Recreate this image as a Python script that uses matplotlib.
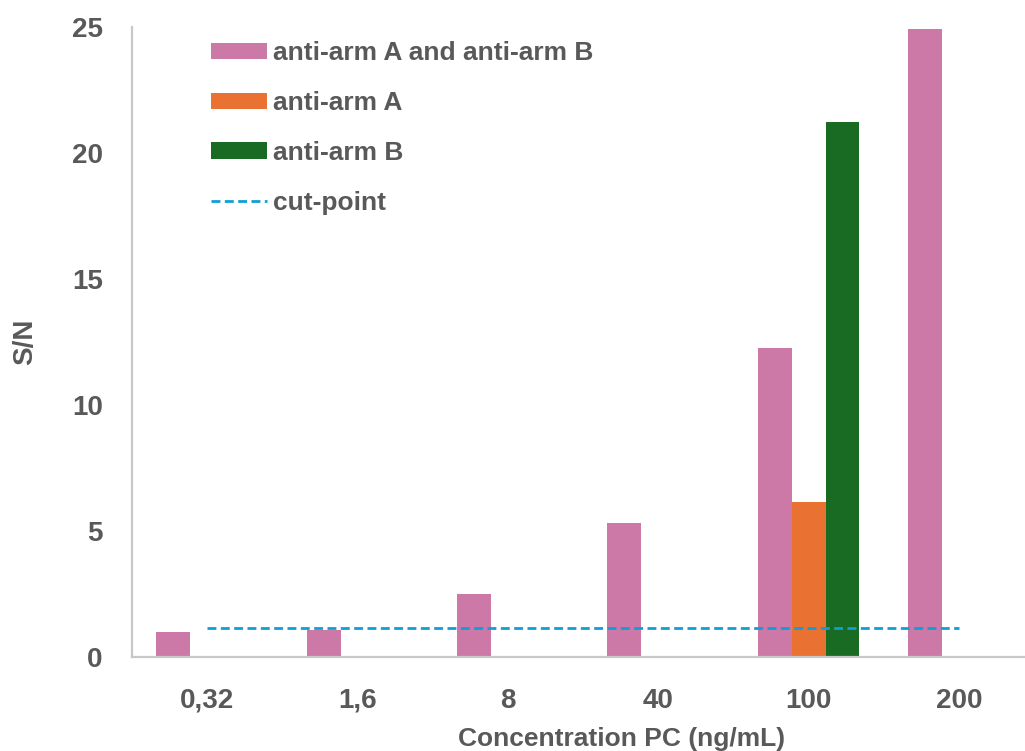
import matplotlib.pyplot as plt
import numpy as np

# concentrations of PC (ng/mL) and S/N readings
concentrations = ['0,32', '1,6', '8', '40', '100', '200']
sn_both = [0.99, 1.07, 2.49, 5.33, 12.26, 24.92]
sn_arm_a = [np.nan, np.nan, np.nan, np.nan, 6.16, np.nan]
sn_arm_b = [np.nan, np.nan, np.nan, np.nan, 21.22, np.nan]
cut_point = [1.16, 1.16, 1.16, 1.16, 1.16, 1.16]

text_grey = '#595959'
axis_grey = '#c8c8c8'
font = 'Liberation Sans'

fig = plt.figure(figsize=(10.25, 7.51), dpi=100)
ax = fig.add_axes([0.1288, 0.1252, 0.8800, 0.8388])

x = np.arange(len(concentrations))
w = 0.226
b1 = ax.bar(x - w, sn_both, w, color='#CC79A7', label='anti-arm A and anti-arm B')
b2 = ax.bar(x, sn_arm_a, w, color='#E97132', label='anti-arm A')
b3 = ax.bar(x + w, sn_arm_b, w, color='#196B24', label='anti-arm B')
ln, = ax.plot(x, cut_point, color='#0F9ED5', lw=2.0, dashes=(3.2, 1.6), label='cut-point')

ax.set_xlim(-0.5, 5.5)
ax.set_ylim(0, 25)
ax.set_yticks([0, 5, 10, 15, 20, 25])
ax.set_xticks(x)
ax.set_xticklabels(concentrations)
for lbl in ax.get_xticklabels() + ax.get_yticklabels():
    lbl.set_fontsize(20)
    lbl.set_fontweight('bold')
    lbl.set_color(text_grey)
    lbl.set_family(font)
ax.tick_params(axis='x', length=0, pad=22)
ax.tick_params(axis='y', length=0, pad=21)

for side in ['top', 'right']:
    ax.spines[side].set_visible(False)
for side in ['left', 'bottom']:
    ax.spines[side].set_color(axis_grey)
    ax.spines[side].set_linewidth(1.6)

ax.set_xlabel('Concentration PC (ng/mL)', family=font, fontsize=19,
              fontweight='bold', color=text_grey, labelpad=10, x=0.543)
ax.set_ylabel('S/N', family=font, fontsize=20, fontweight='bold',
              color=text_grey, labelpad=24)

leg = ax.legend([b1, b2, b3, ln], [h.get_label() for h in (b1, b2, b3, ln)],
                loc='upper left', bbox_to_anchor=(0.076, 0.994), frameon=False,
                prop={'family': font, 'weight': 'bold', 'size': 19},
                handlelength=2.12, handleheight=0.6, handletextpad=0.23,
                labelspacing=0.98, borderaxespad=0)
for t in leg.get_texts():
    t.set_color(text_grey)

fig.savefig('out.png', dpi=100)
